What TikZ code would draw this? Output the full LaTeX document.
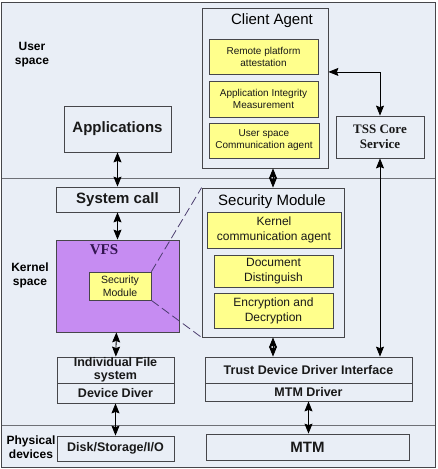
\documentclass[tikz,border=0pt]{standalone}
\usepackage{fontspec}
\setmainfont{Liberation Sans}
\newfontfamily\timesfont{Liberation Serif}
\usetikzlibrary{arrows.meta, positioning, calc}
\definecolor{spacebg}{RGB}{233,238,246}
\definecolor{boxline}{RGB}{70,70,74}
\definecolor{sepline}{RGB}{110,112,118}
\definecolor{moduleyellow}{RGB}{255,255,140}
\definecolor{vfspurple}{RGB}{198,140,242}
\definecolor{vfstext}{RGB}{50,20,80}
\definecolor{zoomline}{RGB}{75,60,110}
\newcommand{\fsz}[1]{\fontsize{#1}{#1}\selectfont}

\begin{document}
\begin{tikzpicture}[x=1pt, y=-1pt,
  plainbox/.style={draw=boxline, line width=0.8pt, fill=spacebg, inner sep=0pt,
    align=center, text=black!90},
  modbox/.style={plainbox, fill=moduleyellow},
  dbl/.style={{Stealth[length=10pt,width=8pt,inset=1.5pt]}-{Stealth[length=10pt,width=8pt,inset=1.5pt]},
    line width=0.8pt},
  spacelbl/.style={font=\bfseries\fontsize{12}{14}\selectfont, align=center}]
  \useasboundingbox (0,0) rectangle (437,469);
  \fill[spacebg] (1,2) rectangle (435,467);
  % Space separators
  \draw[sepline, line width=0.9pt] (1,178) -- (435,178);
  \draw[sepline, line width=0.9pt] (1,425) -- (435,425);
  \draw[boxline, line width=1pt] (1,2) rectangle (435,467);
  % Space labels
  \node[spacelbl] (userlbl) at (32,55) {User\\space};
  \node[spacelbl] (kernellbl) at (30,275) {Kernel\\space};
  \node[spacelbl] (physlbl) at (31,447) {Physical\\devices};
  % User space
  \node[plainbox, minimum width=107, minimum height=46,
    font=\bfseries\fsz{15}] (apps) at (117.5,129) {Applications};
  \node[plainbox, minimum width=126, minimum height=160] (client) at (265,88) {};
  \node[font=\fsz{15}] (clienttitle) at (272,21) {Client Agent};
  \node[modbox, minimum width=109, minimum height=35,
    font=\fontsize{10}{12}\selectfont] (remote) at (263.5,56.5)
    {Remote platform\\attestation};
  \node[modbox, minimum width=109, minimum height=36,
    font=\fontsize{10}{12}\selectfont] (integrity) at (263.5,99)
    {Application Integrity\\Measurement};
  \node[modbox, minimum width=110, minimum height=35,
    font=\fontsize{10}{12}\selectfont] (usercomm) at (264,140.5)
    {User space\\Communication agent};
  \node[plainbox, minimum width=88, minimum height=42,
    font=\timesfont\bfseries\fontsize{13}{15}\selectfont] (tss) at (380,137)
    {TSS Core\\Service};
  % Kernel space
  \node[plainbox, minimum width=123, minimum height=25,
    font=\bfseries\fsz{15}] (syscall) at (117.5,199.5) {System call};
  \node[plainbox, fill=vfspurple, minimum width=123, minimum height=92] (vfs)
    at (117.5,286) {};
  \node[font=\timesfont\bfseries\fsz{15}, text=vfstext] (vfstitle) at (104,250)
    {VFS};
  \node[modbox, minimum width=62, minimum height=28,
    font=\fontsize{10.5}{13}\selectfont] (smallsec) at (120,286)
    {Security\\Module};
  \node[plainbox, minimum width=142, minimum height=149] (secmod) at (273,262.5) {};
  \node[font=\fsz{15}] (sectitle) at (272,202) {Security Module};
  \node[modbox, minimum width=134, minimum height=36,
    font=\fontsize{12}{15}\selectfont] (kernelcomm) at (274,230)
    {Kernel\\communication agent};
  \node[modbox, minimum width=119, minimum height=32,
    font=\fontsize{12}{15}\selectfont] (docdist) at (273.5,271)
    {Document\\Distinguish};
  \node[modbox, minimum width=119, minimum height=35,
    font=\fontsize{12}{15}\selectfont] (crypt) at (273.5,310.5)
    {Encryption and\\Decryption};
  \node[plainbox, minimum width=117, minimum height=26,
    font=\bfseries\fontsize{12.5}{13}\selectfont] (indfs) at (115.5,370)
    {Individual File\\system};
  \node[plainbox, minimum width=117, minimum height=20,
    font=\bfseries\fsz{12.5}] (devdiver) at (115.5,393) {Device Diver};
  \node[plainbox, minimum width=207, minimum height=26,
    font=\bfseries\fsz{12.5}] (tddi) at (308.5,370)
    {Trust Device Driver Interface};
  \node[plainbox, minimum width=207, minimum height=18,
    font=\bfseries\fsz{12.5}] (mtmdrv) at (308.5,392) {MTM Driver};
  % Physical devices
  \node[plainbox, minimum width=117, minimum height=25,
    font=\bfseries\fsz{12.5}] (disk) at (115.5,448.5) {Disk/Storage/I/O};
  \node[plainbox, minimum width=203, minimum height=26,
    font=\bfseries\fsz{15}] (mtm) at (307.5,447) {MTM};
  % Zoom lines
  \draw[zoomline, dashed, dash pattern=on 9pt off 4pt, line width=0.8pt]
    (smallsec.north east) -- (secmod.north west);
  \draw[zoomline, dashed, dash pattern=on 9pt off 4pt, line width=0.8pt]
    (smallsec.south east) -- (secmod.south west);
  % Connectors
  \draw[dbl] (apps) -- (syscall);
  \draw[dbl] (syscall) -- (vfs);
  \draw[dbl] (vfs) -- (indfs);
  \draw[dbl] (devdiver) -- (disk);
  \draw[dbl] (secmod.north |- client.south) -- (secmod.north);
  \draw[dbl] (secmod.south) -- (secmod.south |- tddi.north);
  \draw[dbl] (mtmdrv.south) -- (mtmdrv.south |- mtm.north);
  \draw[dbl] ($(client.north east)!0.4!(client.south east)$) -| (tss.north);
  \draw[dbl] (tss.south) -- (tss.south |- tddi.north);
\end{tikzpicture}
\end{document}
